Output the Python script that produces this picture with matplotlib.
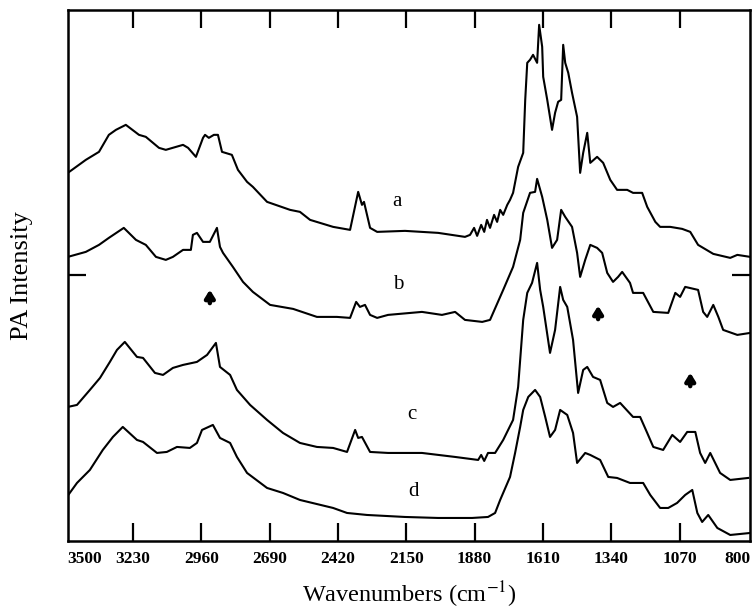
import numpy as np
import matplotlib
matplotlib.use("Agg")
import matplotlib.pyplot as plt

# spectra (wavenumber in cm-1, intensity in arbitrary offset units)
wn_a = [3487, 3416, 3364, 3325, 3297, 3258, 3206, 3179, 3127, 3100, 3032, 3012,
        2981, 2953, 2945, 2930, 2910, 2894, 2878, 2839, 2815, 2779, 2756, 2700,
        2609, 2570, 2530, 2439, 2372, 2340, 2325, 2317, 2293, 2265, 2155, 2024,
        1918, 1898, 1882, 1870, 1854, 1842, 1831, 1819, 1803, 1791, 1779, 1767,
        1751, 1740, 1728, 1708, 1688, 1680, 1672, 1661, 1649, 1633, 1625, 1613,
        1609, 1593, 1574, 1562, 1550, 1538, 1530, 1522, 1510, 1495, 1475, 1463,
        1451, 1435, 1423, 1396, 1372, 1344, 1317, 1277, 1254, 1218, 1198, 1166,
        1147, 1107, 1060, 1028, 997, 937, 870, 842, 791]
int_a = [368, 381, 389, 406, 411, 416, 406, 404, 393, 391, 396, 393,
         384, 403, 406, 403, 406, 406, 389, 386, 371, 359, 354, 339,
         331, 329, 321, 314, 311, 349, 336, 339, 313, 309, 310, 308,
         304, 306, 313, 305, 316, 309, 321, 313, 326, 319, 331, 326,
         336, 341, 348, 374, 388, 441, 478, 481, 486, 478, 516, 494,
         464, 441, 411, 428, 439, 441, 496, 478, 468, 448, 424, 368,
         388, 408, 378, 384, 378, 361, 351, 351, 348, 348, 334, 319,
         314, 314, 312, 309, 296, 287, 283, 286, 284]

wn_b = [3487, 3416, 3364, 3325, 3266, 3218, 3179, 3139, 3100, 3072, 3032, 3001,
        2993, 2977, 2953, 2926, 2898, 2886, 2874, 2835, 2795, 2756, 2688, 2597,
        2503, 2424, 2372, 2348, 2333, 2313, 2293, 2265, 2222, 2088, 2009, 1957,
        1918, 1850, 1819, 1767, 1728, 1700, 1688, 1661, 1641, 1633, 1613, 1593,
        1574, 1554, 1538, 1522, 1495, 1475, 1463, 1443, 1423, 1396, 1376, 1356,
        1333, 1313, 1297, 1266, 1254, 1214, 1174, 1115, 1087, 1068, 1048, 997,
        977, 961, 937, 917, 898, 842, 791]
int_b = [284, 289, 296, 303, 313, 301, 296, 284, 281, 284, 291, 291,
         306, 308, 299, 299, 313, 294, 288, 274, 259, 249, 236, 232,
         224, 224, 223, 239, 234, 236, 226, 223, 226, 229, 226, 229,
         221, 219, 221, 251, 274, 301, 328, 348, 349, 362, 344, 321,
         293, 301, 331, 324, 314, 288, 264, 281, 296, 293, 288, 268,
         259, 264, 269, 258, 248, 248, 229, 228, 248, 244, 254, 251,
         229, 224, 236, 224, 211, 206, 208]

wn_c = [3487, 3451, 3400, 3360, 3321, 3293, 3262, 3214, 3190, 3143, 3111, 3072,
        3032, 2977, 2937, 2902, 2886, 2846, 2819, 2767, 2700, 2637, 2570, 2503,
        2439, 2384, 2352, 2340, 2325, 2293, 2222, 2088, 1957, 1866, 1854, 1842,
        1827, 1799, 1767, 1728, 1708, 1688, 1672, 1653, 1633, 1621, 1609, 1582,
        1562, 1542, 1530, 1514, 1491, 1471, 1451, 1435, 1412, 1384, 1356, 1333,
        1305, 1254, 1226, 1198, 1174, 1135, 1099, 1068, 1040, 1008, 989, 969,
        949, 910, 870, 799]
int_c = [134, 136, 151, 163, 179, 191, 199, 184, 183, 168, 166, 173,
         176, 179, 186, 198, 174, 166, 151, 136, 121, 108, 98, 94,
         93, 89, 111, 103, 104, 89, 88, 88, 84, 81, 86, 80,
         88, 88, 101, 121, 154, 221, 248, 258, 278, 251, 234, 188,
         211, 254, 241, 234, 201, 148, 171, 174, 164, 161, 138, 134,
         138, 124, 124, 108, 94, 91, 106, 99, 109, 109, 88, 78,
         88, 68, 61, 63]

wn_d = [3491, 3451, 3400, 3349, 3309, 3270, 3214, 3190, 3135, 3096, 3056, 3005,
        2977, 2957, 2914, 2886, 2846, 2819, 2779, 2700, 2637, 2570, 2439, 2384,
        2305, 2155, 2024, 1890, 1827, 1799, 1779, 1740, 1720, 1700, 1688, 1668,
        1641, 1621, 1601, 1582, 1562, 1542, 1514, 1491, 1475, 1443, 1423, 1384,
        1352, 1317, 1266, 1214, 1186, 1147, 1115, 1080, 1048, 1020, 1000, 981,
        957, 921, 870, 791]
int_d = [44, 58, 71, 91, 104, 114, 101, 99, 88, 89, 94, 93,
         98, 111, 116, 103, 98, 84, 68, 53, 48, 41, 33, 28,
         26, 24, 23, 23, 24, 28, 41, 64, 88, 114, 131, 144,
         151, 144, 124, 104, 111, 131, 126, 108, 78, 88, 86, 81,
         64, 63, 58, 58, 46, 33, 33, 38, 46, 51, 28, 19,
         26, 13, 6, 8]

tick_pos = [3420, 3230, 2960, 2690, 2420, 2150, 1880, 1610, 1340, 1070, 842]
tick_lab = ["3500", "3230", "2960", "2690", "2420", "2150", "1880", "1610",
            "1340", "1070", "800"]

plt.rcParams["font.family"] = "Liberation Serif"
plt.rcParams["mathtext.fontset"] = "stix"

fig = plt.figure(figsize=(7.54, 6.13), dpi=100)
ax = fig.add_axes([0.090, 0.1175, 0.905, 0.8665])

for wn, inten in [(wn_a, int_a), (wn_b, int_b), (wn_c, int_c), (wn_d, int_d)]:
    ax.plot(wn, inten, color="black", lw=1.5)

ax.set_xlim(3487, 791)
ax.set_ylim(0, 531)

ax.set_xticks(tick_pos)
ax.set_xticklabels(tick_lab, fontsize=12.5, fontweight="bold")
ax.set_yticks([265.5])
ax.set_yticklabels([])
ax.tick_params(axis="both", direction="in", length=13, width=1.6,
               top=True, right=True, pad=7)
# no tick marks under the end labels
for t in (ax.xaxis.get_major_ticks()[0], ax.xaxis.get_major_ticks()[-1]):
    t.tick1line.set_visible(False)
    t.tick2line.set_visible(False)

for sp in ax.spines.values():
    sp.set_linewidth(1.8)

ax.set_xlabel("Wavenumbers (cm$^{-1}$)", fontsize=17.5, labelpad=9)
ax.set_ylabel("PA Intensity", fontsize=19, labelpad=18)

# curve letters
ax.text(2186, 339, "a", fontsize=15, ha="center", va="center")
ax.text(2182, 256, "b", fontsize=15, ha="center", va="center")
ax.text(2127, 126, "c", fontsize=15, ha="center", va="center")
ax.text(2123, 49, "d", fontsize=15, ha="center", va="center")

# arrows
for xa, ya in [(2926, 244), (1392, 228), (1028, 161)]:
    ax.annotate("", xy=(xa, ya + 10), xytext=(xa, ya - 9),
                arrowprops=dict(arrowstyle="-|>,head_width=0.28,head_length=0.45",
                                color="black", lw=3.2))

fig.savefig("out.png", dpi=100)
